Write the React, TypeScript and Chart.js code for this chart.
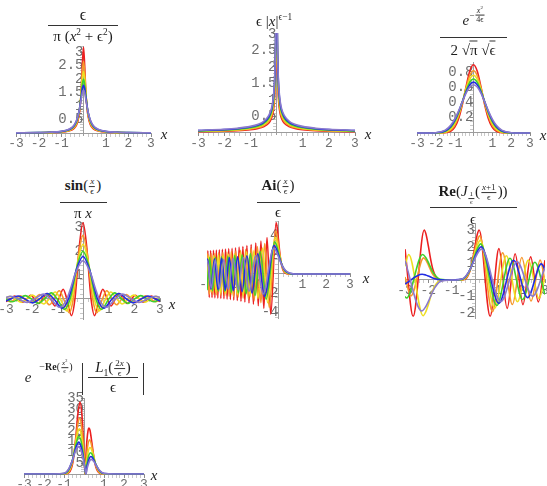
import React, { useEffect, useRef } from 'react';
import { Chart, registerables } from 'chart.js';

Chart.register(...registerables);

const SERIF = "'Liberation Serif', 'DejaVu Serif', serif";
const MONO = "'Liberation Mono', 'DejaVu Sans Mono', monospace";

// epsilon values of the six curves (red → lavender)
const epsilons = [0.1, 0.12, 0.14, 0.16, 0.18, 0.2];
const seriesColors = ['rgb(236,32,32)', 'rgb(246,152,44)', 'rgb(238,222,34)', 'rgb(64,208,44)', 'rgb(34,44,226)', 'rgb(138,122,204)'];

const xTickLabels = [-3, -2, -1, 1, 2, 3];

// ---------- Plot 1: eps / (pi (x^2 + eps^2)) ----------
const lorentzX = [-3, -2, -1.5, -1, -0.7, -0.5, -0.4, -0.3, -0.2, -0.15, -0.1, -0.05, 0, 0.05, 0.1, 0.15, 0.2, 0.3, 0.4, 0.5, 0.7, 1, 1.5, 2, 3];
const lorentzE10 = [0.004, 0.008, 0.014, 0.032, 0.064, 0.122, 0.187, 0.318, 0.637, 0.979, 1.592, 2.546, 3.183, 2.546, 1.592, 0.979, 0.637, 0.318, 0.187, 0.122, 0.064, 0.032, 0.014, 0.008, 0.004];
const lorentzE12 = [0.004, 0.010, 0.017, 0.038, 0.076, 0.144, 0.219, 0.366, 0.702, 1.035, 1.566, 2.260, 2.653, 2.260, 1.566, 1.035, 0.702, 0.366, 0.219, 0.144, 0.076, 0.038, 0.017, 0.010, 0.004];
const lorentzE14 = [0.005, 0.011, 0.020, 0.044, 0.087, 0.165, 0.248, 0.407, 0.748, 1.058, 1.506, 2.016, 2.274, 2.016, 1.506, 1.058, 0.748, 0.407, 0.248, 0.165, 0.087, 0.044, 0.020, 0.011, 0.005];
const lorentzE16 = [0.006, 0.013, 0.022, 0.050, 0.099, 0.185, 0.274, 0.441, 0.776, 1.059, 1.431, 1.812, 1.989, 1.812, 1.431, 1.059, 0.776, 0.441, 0.274, 0.185, 0.099, 0.050, 0.022, 0.013, 0.006];
const lorentzE18 = [0.006, 0.014, 0.025, 0.056, 0.110, 0.203, 0.298, 0.468, 0.791, 1.044, 1.351, 1.642, 1.768, 1.642, 1.351, 1.044, 0.791, 0.468, 0.298, 0.203, 0.110, 0.056, 0.025, 0.014, 0.006];
const lorentzE20 = [0.007, 0.016, 0.028, 0.061, 0.120, 0.220, 0.318, 0.490, 0.796, 1.019, 1.273, 1.498, 1.592, 1.498, 1.273, 1.019, 0.796, 0.490, 0.318, 0.220, 0.120, 0.061, 0.028, 0.016, 0.007];

// ---------- Plot 2: eps |x|^(eps-1) ----------
const powerX = [-3, -2, -1.5, -1, -0.7, -0.5, -0.3, -0.2, -0.15, -0.1, -0.07, -0.05, -0.03, -0.02, -0.01, 0.01, 0.02, 0.03, 0.05, 0.07, 0.1, 0.15, 0.2, 0.3, 0.5, 0.7, 1, 1.5, 2, 3];
const powerE10 = [0.037, 0.054, 0.069, 0.1, 0.138, 0.187, 0.296, 0.426, 0.551, 0.794, 1.095, 1.48, 2.35, 3.38, 6.31, 6.31, 3.38, 2.35, 1.48, 1.095, 0.794, 0.551, 0.426, 0.296, 0.187, 0.138, 0.1, 0.069, 0.054, 0.037];
const powerE12 = [0.046, 0.065, 0.084, 0.12, 0.164, 0.221, 0.346, 0.494, 0.637, 0.910, 1.246, 1.675, 2.63, 3.75, 6.90, 6.90, 3.75, 2.63, 1.675, 1.246, 0.910, 0.637, 0.494, 0.346, 0.221, 0.164, 0.12, 0.084, 0.065, 0.046];
const powerE14 = [0.054, 0.077, 0.099, 0.14, 0.190, 0.254, 0.394, 0.559, 0.715, 1.015, 1.379, 1.84, 2.86, 4.05, 7.35, 7.35, 4.05, 2.86, 1.84, 1.379, 1.015, 0.715, 0.559, 0.394, 0.254, 0.190, 0.14, 0.099, 0.077, 0.054];
const powerE16 = [0.064, 0.089, 0.114, 0.16, 0.216, 0.286, 0.440, 0.618, 0.787, 1.107, 1.494, 1.98, 3.04, 4.28, 7.65, 7.65, 4.28, 3.04, 1.98, 1.494, 1.107, 0.787, 0.618, 0.440, 0.286, 0.216, 0.16, 0.114, 0.089, 0.064];
const powerE18 = [0.073, 0.102, 0.129, 0.18, 0.241, 0.318, 0.483, 0.673, 0.853, 1.189, 1.593, 2.10, 3.19, 4.45, 7.85, 7.85, 4.45, 3.19, 2.10, 1.593, 1.189, 0.853, 0.673, 0.483, 0.318, 0.241, 0.18, 0.129, 0.102, 0.073];
const powerE20 = [0.083, 0.115, 0.145, 0.2, 0.266, 0.348, 0.524, 0.724, 0.913, 1.262, 1.678, 2.20, 3.31, 4.58, 7.96, 7.96, 4.58, 3.31, 2.20, 1.678, 1.262, 0.913, 0.724, 0.524, 0.348, 0.266, 0.2, 0.145, 0.115, 0.083];

// ---------- Plot 3: Gaussian ----------
const gaussX = [-3, -2.5, -2, -1.5, -1.2, -1, -0.8, -0.6, -0.4, -0.2, 0, 0.2, 0.4, 0.6, 0.8, 1, 1.2, 1.5, 2, 2.5, 3];
const gaussE10 = [0, 0, 0, 0.003, 0.024, 0.073, 0.180, 0.363, 0.598, 0.807, 0.892, 0.807, 0.598, 0.363, 0.180, 0.073, 0.024, 0.003, 0, 0, 0];
const gaussE12 = [0, 0, 0.0002, 0.0075, 0.041, 0.101, 0.215, 0.384, 0.584, 0.749, 0.814, 0.749, 0.584, 0.384, 0.215, 0.101, 0.041, 0.0075, 0.0002, 0, 0];
const gaussE14 = [0, 0, 0.0006, 0.0136, 0.058, 0.127, 0.240, 0.397, 0.566, 0.702, 0.754, 0.702, 0.566, 0.397, 0.240, 0.127, 0.058, 0.0136, 0.0006, 0, 0];
const gaussE16 = [0, 0, 0.0013, 0.021, 0.074, 0.148, 0.259, 0.402, 0.549, 0.662, 0.705, 0.662, 0.549, 0.402, 0.259, 0.148, 0.074, 0.021, 0.0013, 0, 0];
const gaussE18 = [0, 0.0001, 0.0026, 0.029, 0.090, 0.166, 0.273, 0.403, 0.533, 0.629, 0.665, 0.629, 0.533, 0.403, 0.273, 0.166, 0.090, 0.029, 0.0026, 0.0001, 0];
const gaussE20 = [0, 0.0003, 0.0042, 0.038, 0.104, 0.181, 0.283, 0.403, 0.517, 0.600, 0.631, 0.600, 0.517, 0.403, 0.283, 0.181, 0.104, 0.038, 0.0042, 0.0003, 0];

// ---------- Plot 4: sin(x/eps)/(pi x) ----------
const sincX10 = [-3, -2.827, -2.667, -2.513, -2.352, -2.199, -2.037, -1.885, -1.722, -1.571, -1.407, -1.257, -1.090, -0.942, -0.773, -0.628, -0.449, -0.314, -0.24, -0.15, 0, 0.15, 0.24, 0.314, 0.449, 0.628, 0.773, 0.942, 1.090, 1.257, 1.407, 1.571, 1.722, 1.885, 2.037, 2.199, 2.352, 2.513, 2.667, 2.827, 3];
const sincY10 = [-0.106, 0, 0.119, 0, -0.135, 0, 0.156, 0, -0.185, 0, 0.226, 0, -0.291, 0, 0.409, 0, -0.691, 0, 0.896, 2.117, 3.183, 2.117, 0.896, 0, -0.691, 0, 0.409, 0, -0.291, 0, 0.226, 0, -0.185, 0, 0.156, 0, -0.135, 0, 0.119, 0, -0.106];
const sincX12 = [-3, -2.822, -2.639, -2.444, -2.262, -2.067, -1.885, -1.688, -1.508, -1.308, -1.131, -0.927, -0.754, -0.539, -0.377, -0.288, -0.18, 0, 0.18, 0.288, 0.377, 0.539, 0.754, 0.927, 1.131, 1.308, 1.508, 1.688, 1.885, 2.067, 2.262, 2.444, 2.639, 2.822, 3];
const sincY12 = [-0.014, -0.113, 0, 0.130, 0, -0.154, 0, 0.188, 0, -0.242, 0, 0.341, 0, -0.576, 0, 0.747, 1.764, 2.653, 1.764, 0.747, 0, -0.576, 0, 0.341, 0, -0.242, 0, 0.188, 0, -0.154, 0, 0.130, 0, -0.113, -0.014];
const sincX14 = [-3, -2.852, -2.639, -2.411, -2.199, -1.969, -1.759, -1.527, -1.319, -1.082, -0.880, -0.629, -0.440, -0.336, -0.21, 0, 0.21, 0.336, 0.440, 0.629, 0.880, 1.082, 1.319, 1.527, 1.759, 1.969, 2.199, 2.411, 2.639, 2.852, 3];
const sincY14 = [0.056, 0.111, 0, -0.132, 0, 0.161, 0, -0.208, 0, 0.292, 0, -0.494, 0, 0.640, 1.512, 2.274, 1.512, 0.640, 0, -0.494, 0, 0.292, 0, -0.208, 0, 0.161, 0, -0.132, 0, 0.111, 0.056];
const sincX16 = [-3, -2.755, -2.513, -2.251, -2.011, -1.745, -1.508, -1.236, -1.005, -0.719, -0.503, -0.384, -0.24, 0, 0.24, 0.384, 0.503, 0.719, 1.005, 1.236, 1.508, 1.745, 2.011, 2.251, 2.513, 2.755, 3];
const sincY16 = [-0.011, -0.115, 0, 0.141, 0, -0.182, 0, 0.255, 0, -0.432, 0, 0.560, 1.323, 1.989, 1.323, 0.560, 0, -0.432, 0, 0.255, 0, -0.182, 0, 0.141, 0, -0.115, -0.011];
const sincX18 = [-3, -2.827, -2.532, -2.262, -1.963, -1.696, -1.391, -1.131, -0.809, -0.565, -0.432, -0.27, 0, 0.27, 0.432, 0.565, 0.809, 1.131, 1.391, 1.696, 1.963, 2.262, 2.532, 2.827, 3];
const sincY18 = [-0.087, 0, 0.125, 0, -0.161, 0, 0.227, 0, -0.384, 0, 0.498, 1.176, 1.768, 1.176, 0.498, 0, -0.384, 0, 0.227, 0, -0.161, 0, 0.125, 0, -0.087];
const sincX20 = [-3, -2.813, -2.513, -2.181, -1.885, -1.545, -1.257, -0.899, -0.628, -0.48, -0.3, 0, 0.3, 0.48, 0.628, 0.899, 1.257, 1.545, 1.885, 2.181, 2.513, 2.813, 3];
const sincY20 = [0.069, 0.113, 0, -0.145, 0, 0.204, 0, -0.346, 0, 0.448, 1.059, 1.592, 1.059, 0.448, 0, -0.346, 0, 0.204, 0, -0.145, 0, 0.113, 0.069];

// ---------- Plot 5: Ai(x/eps)/eps (extrema + decaying tail) ----------
const airyX10 = [-3, -2.964, -2.906, -2.848, -2.789, -2.729, -2.669, -2.607, -2.546, -2.483, -2.419, -2.355, -2.290, -2.224, -2.157, -2.088, -2.019, -1.948, -1.877, -1.803, -1.729, -1.652, -1.574, -1.494, -1.411, -1.326, -1.2385, -1.1475, -1.0528, -0.9535, -0.8489, -0.7372, -0.6163, -0.4820, -0.3248, -0.1019, -0.05, 0, 0.05, 0.1, 0.15, 0.2, 0.25, 0.3, 0.4, 0.5, 3];
const airyY10 = [-0.89, 2.418, -2.430, 2.443, -2.455, 2.468, -2.482, 2.497, -2.512, 2.527, -2.544, 2.561, -2.579, 2.598, -2.618, 2.640, -2.662, 2.686, -2.711, 2.738, -2.767, 2.798, -2.833, 2.870, -2.911, 2.957, -3.023, 3.078, -3.141, 3.217, -3.309, 3.425, -3.579, 3.804, -4.19, 5.357, 4.757, 3.550, 2.317, 1.353, 0.717, 0.349, 0.157, 0.066, 0.0095, 0.001, 0];
const airyX12 = [-3, -2.980, -2.903, -2.826, -2.748, -2.669, -2.588, -2.506, -2.423, -2.338, -2.252, -2.164, -2.075, -1.982, -1.889, -1.793, -1.693, -1.591, -1.4862, -1.3770, -1.2633, -1.1442, -1.0187, -0.8846, -0.7396, -0.5784, -0.3898, -0.1223, -0.06, 0, 0.06, 0.12, 0.18, 0.24, 0.3, 0.36, 0.48, 0.6, 3];
const airyY12 = [1.357, 2.106, -2.120, 2.134, -2.149, 2.165, -2.182, 2.200, -2.218, 2.238, -2.259, 2.282, -2.306, 2.332, -2.361, 2.392, -2.426, 2.464, -2.517, 2.565, -2.618, 2.681, -2.758, 2.854, -2.983, 3.170, -3.492, 4.464, 3.964, 2.958, 1.931, 1.128, 0.598, 0.291, 0.131, 0.055, 0.008, 0.001, 0];
const airyX14 = [-3, -2.923, -2.827, -2.727, -2.628, -2.524, -2.421, -2.313, -2.204, -2.092, -1.975, -1.856, -1.7339, -1.6065, -1.4739, -1.3349, -1.1884, -1.0321, -0.8628, -0.6748, -0.4547, -0.1426, -0.07, 0, 0.07, 0.14, 0.21, 0.28, 0.35, 0.42, 0.56, 0.7, 3];
const airyY14 = [-1.521, 1.886, -1.901, 1.919, -1.936, 1.956, -1.976, 1.999, -2.024, 2.050, -2.079, 2.112, -2.157, 2.200, -2.243, 2.300, -2.364, 2.450, -2.557, 2.714, -2.993, 3.826, 3.398, 2.536, 1.655, 0.966, 0.512, 0.249, 0.112, 0.047, 0.007, 0.001, 0];
const airyX16 = [-3, -2.885, -2.766, -2.643, -2.518, -2.390, -2.258, -2.122, -1.982, -1.836, -1.6844, -1.5256, -1.3582, -1.1795, -0.9861, -0.7712, -0.5197, -0.1630, -0.08, 0, 0.08, 0.16, 0.24, 0.32, 0.4, 0.48, 0.64, 0.8, 3];
const airyY16 = [-1.691, 1.711, -1.729, 1.749, -1.771, 1.794, -1.819, 1.848, -1.888, 1.924, -1.963, 2.011, -2.068, 2.141, -2.237, 2.375, -2.619, 3.348, 2.973, 2.219, 1.448, 0.846, 0.448, 0.218, 0.098, 0.041, 0.006, 0.001, 0];
const airyX18 = [-3, -2.974, -2.833, -2.689, -2.540, -2.387, -2.2293, -2.0655, -1.8950, -1.7163, -1.5280, -1.3270, -1.1093, -0.8676, -0.5847, -0.1834, -0.09, 0, 0.09, 0.18, 0.27, 0.36, 0.45, 0.54, 0.72, 0.9, 3];
const airyY18 = [1.272, 1.554, -1.574, 1.594, -1.617, 1.643, -1.678, 1.710, -1.745, 1.787, -1.838, 1.903, -1.988, 2.111, -2.328, 2.976, 2.643, 1.972, 1.287, 0.752, 0.398, 0.194, 0.087, 0.037, 0.005, 0.001, 0];
const airyX20 = [-3, -2.988, -2.822, -2.652, -2.4770, -2.2950, -2.1055, -1.9070, -1.6977, -1.4744, -1.2326, -0.9640, -0.6496, -0.2038, -0.1, 0, 0.1, 0.2, 0.3, 0.4, 0.5, 0.6, 0.8, 1.0, 3];
const airyY20 = [1.42, 1.435, -1.456, 1.479, -1.511, 1.539, -1.571, 1.609, -1.655, 1.713, -1.790, 1.902, -2.095, 2.679, 2.379, 1.775, 1.159, 0.677, 0.359, 0.175, 0.079, 0.033, 0.005, 0.0005, 0];

// ---------- Plot 6: Re(J_{1/eps}((x+1)/eps))/eps ----------
const besselX10 = [-3, -2.65, -2.177, -2.1, -2.0, -1.9, -1.8, -1.6, -1.4, -1.0, -0.6, -0.4, -0.2, -0.1, 0.0, 0.1, 0.177, 0.65, 1.025, 1.378, 1.72, 2.055, 2.385, 2.713, 3.0];
const besselY10 = [1.87, -2.20, 3.03, 2.78, 2.07, 1.25, 0.62, 0.07, 0.002, 0, 0.002, 0.07, 0.62, 1.25, 2.07, 2.78, 3.03, -2.20, 1.90, -1.72, 1.59, -1.49, 1.40, -1.33, 1.20];
const besselX12 = [-3, -2.747, -2.201, -2.104, -2.0, -1.84, -1.72, -1.48, -1.0, -0.52, -0.28, -0.16, 0.0, 0.104, 0.201, 0.747, 1.185, 1.600, 2.005, 2.402, 2.794, 3.0];
const besselY12 = [0.186, -0.963, 1.338, 1.205, 0.92, 0.41, 0.18, 0.010, 0, 0.021, 0.36, 0.82, 1.84, 2.41, 2.675, -1.925, 1.655, -1.488, 1.368, -1.277, 1.204, -0.104];
const besselX14 = [-3, -2.842, -2.223, -2.106, -2.0, -1.84, -1.70, -1.49, -1.0, -0.51, -0.30, -0.16, 0.0, 0.106, 0.223, 0.842, 1.344, 1.821, 2.286, 2.746, 3.0];
const besselY14 = [0.833, 1.544, -2.166, -1.919, -1.495, -0.737, -0.311, -0.036, 0, 0.040, 0.345, 0.818, 1.659, 2.13, 2.404, -1.714, 1.467, -1.314, 1.206, -1.122, 0.195];
const besselX16 = [-3, -2.936, -2.244, -2.112, -2.0, -1.84, -1.72, -1.48, -1.0, -0.52, -0.28, -0.16, 0.0, 0.112, 0.244, 0.936, 1.499, 2.038, 2.566, 3.0];
const besselY16 = [-1.005, -1.095, 1.550, 1.365, 1.073, 0.573, 0.308, 0.036, 0, 0.051, 0.436, 0.81, 1.518, 1.93, 2.192, -1.549, 1.320, -1.178, 1.078, -0.879];
const besselX18 = [-3, -2.265, -2.116, -2.0, -1.84, -1.72, -1.486, -1.0, -0.514, -0.28, -0.16, 0.0, 0.116, 0.265, 1.025, 1.652, 2.254, 2.843, 3.0];
const besselY18 = [-0.246, 0.350, 0.307, 0.244, 0.139, 0.080, 0.012, 0, 0.071, 0.46, 0.80, 1.403, 1.77, 2.018, -1.417, 1.200, -1.069, 0.977, 0.642];
const besselX20 = [-3, -2.284, -2.12, -2.0, -1.84, -1.72, -1.5, -1.0, -0.8, -0.5, -0.28, -0.16, 0.0, 0.12, 0.284, 1.104, 1.804, 2.468, 3.0];
const besselY20 = [1.171, -1.875, -1.635, -1.306, -0.79, -0.46, -0.10, 0, 0.001, 0.10, 0.46, 0.79, 1.306, 1.635, 1.875, -1.311, 1.103, -0.979, 0.760];

// ---------- Plot 7: e^{-x^2/eps} |L1(2x/eps)/eps| ----------
const lagX10 = [-3, -1.5, -1, -0.8, -0.6, -0.5, -0.4, -0.3, -0.2, -0.1, 0, 0.025, 0.05, 0.075, 0.1, 0.15, 0.2, 0.25, 0.3, 0.4, 0.5, 0.6, 0.8, 1, 1.5, 3];
const lagY10 = [0, 0, 0.0095, 0.283, 3.55, 9.03, 18.17, 28.46, 33.52, 27.14, 10, 4.97, 0, 4.73, 9.05, 15.97, 20.11, 21.41, 20.33, 14.13, 7.39, 3.0, 0.249, 0.0086, 0, 0];
const lagX12 = [-3, -1.5, -1, -0.8, -0.6, -0.5, -0.4, -0.3, -0.2168, -0.1, 0, 0.03, 0.06, 0.09, 0.12, 0.18, 0.2768, 0.35, 0.45, 0.6, 0.8, 1, 1.5, 3];
const lagY12 = [0, 0, 0.0354, 0.577, 4.56, 9.69, 16.84, 23.62, 25.98, 20.44, 8.333, 4.136, 0, 3.894, 7.39, 12.72, 15.90, 14.51, 10.02, 3.73, 0.496, 0.0313, 0, 0];
const lagX14 = [-3, -1.5, -1, -0.8, -0.6, -0.5, -0.4, -0.3, -0.2319, -0.1, 0, 0.035, 0.07, 0.105, 0.14, 0.21, 0.3019, 0.4, 0.5, 0.6, 0.8, 1, 1.5, 3];
const lagY14 = [0, 0, 0.0863, 0.919, 5.23, 9.75, 15.30, 19.85, 20.98, 16.15, 7.143, 3.540, 0, 3.301, 6.21, 10.43, 12.34, 10.74, 7.36, 4.13, 0.771, 0.075, 0, 0];
const lagX16 = [-3, -1.5, -1, -0.8, -0.6, -0.5, -0.4, -0.3, -0.2457, -0.1, 0, 0.04, 0.08, 0.12, 0.16, 0.24, 0.3257, 0.4, 0.5, 0.6, 0.8, 1, 1.5, 3];
const lagY16 = [0, 0, 0.163, 1.259, 5.60, 9.50, 13.80, 16.92, 17.45, 13.21, 6.25, 3.094, 0, 2.856, 5.33, 8.72, 9.89, 9.20, 6.88, 4.28, 1.03, 0.139, 0, 0];
const lagX18 = [-3, -1.5, -1, -0.8, -0.6, -0.5, -0.4, -0.2583, -0.1, 0, 0.045, 0.09, 0.135, 0.18, 0.27, 0.3483, 0.45, 0.6, 0.8, 1, 1.5, 3];
const lagY18 = [0, 0.0004, 0.260, 1.569, 5.76, 9.08, 12.43, 14.84, 11.09, 5.556, 2.747, 0, 2.510, 4.64, 7.41, 8.13, 7.22, 4.26, 1.252, 0.217, 0.0004, 0];
const lagX20 = [-3, -1.5, -1, -0.8, -0.6, -0.5, -0.4, -0.2702, -0.1, 0, 0.05, 0.1, 0.15, 0.2, 0.3, 0.3702, 0.5, 0.6, 0.8, 1, 1.5, 3];
const lagY20 = [0, 0.001, 0.371, 1.835, 5.79, 8.60, 11.23, 12.85, 9.51, 5, 2.469, 0, 2.234, 4.09, 6.38, 6.81, 5.73, 4.13, 1.43, 0.303, 0.001, 0];

// ---------- tick labels ----------
const yTicksP1 = [0.5, 1, 1.5, 2, 2.5, 3];
const yTicksP3 = [0.2, 0.4, 0.6, 0.8];
const yTicksP4 = [1, 2, 3];
const yTicksP5 = [-4, -2, 2, 4];
const yTicksP6 = [-2, -1, 1, 2, 3];
const yTicksP7 = [5, 10, 15, 20, 25, 30, 35];

type Series = { xs: number[]; ys: number[] };
type Spec = {
  series: Series[];
  left: number; right: number; y0: number; k: number;
  yMin: number; yMax: number; yMajor: number[]; yMinorStep: number;
};

const same = (xs: number[], yss: number[][]): Series[] => yss.map((ys) => ({ xs, ys }));

const PLOTS: Spec[] = [
  { series: same(lorentzX, [lorentzE10, lorentzE12, lorentzE14, lorentzE16, lorentzE18, lorentzE20]),
    left: 16, right: 151, y0: 133, k: 27, yMin: -0.08, yMax: 3.2, yMajor: yTicksP1, yMinorStep: 0.1 },
  { series: same(powerX, [powerE10, powerE12, powerE14, powerE16, powerE18, powerE20]),
    left: 198, right: 355, y0: 133, k: 33, yMin: -0.06, yMax: 3.03, yMajor: yTicksP1, yMinorStep: 0.1 },
  { series: same(gaussX, [gaussE10, gaussE12, gaussE14, gaussE16, gaussE18, gaussE20]),
    left: 417, right: 530, y0: 133, k: 76.5, yMin: -0.03, yMax: 0.92, yMajor: yTicksP3, yMinorStep: 0.05 },
  { series: [{ xs: sincX10, ys: sincY10 }, { xs: sincX12, ys: sincY12 }, { xs: sincX14, ys: sincY14 }, { xs: sincX16, ys: sincY16 }, { xs: sincX18, ys: sincY18 }, { xs: sincX20, ys: sincY20 }],
    left: 6, right: 160, y0: 299, k: 24, yMin: -0.85, yMax: 3.2, yMajor: yTicksP4, yMinorStep: 0.2 },
  { series: [{ xs: airyX10, ys: airyY10 }, { xs: airyX12, ys: airyY12 }, { xs: airyX14, ys: airyY14 }, { xs: airyX16, ys: airyY16 }, { xs: airyX18, ys: airyY18 }, { xs: airyX20, ys: airyY20 }],
    left: 207, right: 350, y0: 274, k: 9.6, yMin: -4.6, yMax: 5.5, yMajor: yTicksP5, yMinorStep: 0.5 },
  { series: [{ xs: besselX10, ys: besselY10 }, { xs: besselX12, ys: besselY12 }, { xs: besselX14, ys: besselY14 }, { xs: besselX16, ys: besselY16 }, { xs: besselX18, ys: besselY18 }, { xs: besselX20, ys: besselY20 }],
    left: 405, right: 545, y0: 280, k: 16.5, yMin: -2.35, yMax: 3.35, yMajor: yTicksP6, yMinorStep: 0.2 },
  { series: [{ xs: lagX10, ys: lagY10 }, { xs: lagX12, ys: lagY12 }, { xs: lagX14, ys: lagY14 }, { xs: lagX16, ys: lagY16 }, { xs: lagX18, ys: lagY18 }, { xs: lagX20, ys: lagY20 }],
    left: 24, right: 144, y0: 474, k: 2.15, yMin: -0.4, yMax: 35, yMajor: yTicksP7, yMinorStep: 1 },
];

const isMajor = (majors: number[], v: number) => majors.some((m) => Math.abs(m - v) < 1e-9);

function buildTicks(min: number, max: number, majors: number[], step: number) {
  const vals: number[] = [];
  const a = Math.ceil(min / step - 1e-9);
  const b = Math.floor(max / step + 1e-9);
  for (let i = a; i <= b; i++) {
    const v = Math.round(i * step * 1e6) / 1e6;
    if (Math.abs(v) < 1e-9) continue;
    vals.push(v);
  }
  majors.forEach((m) => { if (!isMajor(vals, m)) vals.push(m); });
  return vals.sort((p, q) => p - q).map((value) => ({ value }));
}

const PAD = 24;
const TICK_COLOR = '#6e6e6e';

function Plot({ spec }: { spec: Spec }) {
  const ref = useRef<HTMLCanvasElement>(null);
  const top = spec.y0 - spec.yMax * spec.k;
  const bottom = spec.y0 - spec.yMin * spec.k;
  const cl = Math.floor(spec.left - PAD);
  const ct = Math.floor(top - PAD);
  const cr = Math.ceil(spec.right + PAD);
  const cb = Math.ceil(bottom + PAD);
  const cw = cr - cl;
  const ch = cb - ct;

  useEffect(() => {
    if (!ref.current) return;
    const datasets = spec.series.map((s, i) => ({
      data: s.xs.map((x, j) => ({ x, y: s.ys[j] })),
      borderColor: seriesColors[i],
      backgroundColor: seriesColors[i],
      borderWidth: 1.6,
      pointRadius: 0,
      fill: false,
      cubicInterpolationMode: 'monotone' as const,
      label: 'eps=' + epsilons[i],
    })).reverse();
    const tickFontX = { family: MONO, size: 13 };
    const tickFontY = { family: MONO, size: 14 };
    const chart = new Chart(ref.current, {
      type: 'line',
      data: { datasets },
      options: {
        animation: false,
        responsive: false,
        devicePixelRatio: 1,
        events: [],
        layout: { padding: { left: spec.left - cl, right: cr - spec.right, top: top - ct, bottom: cb - bottom } },
        elements: { line: { capBezierPoints: false } },
        plugins: { legend: { display: false }, tooltip: { enabled: false }, title: { display: false } },
        scales: {
          x: {
            type: 'linear', min: -3, max: 3, position: { y: 0 } as any,
            afterBuildTicks: (s: any) => { s.ticks = buildTicks(-3, 3, xTickLabels, 0.2); },
            ticks: {
              autoSkip: false, maxRotation: 0, minRotation: 0, padding: 0, color: TICK_COLOR, font: tickFontX,
              callback: (v: any) => (isMajor(xTickLabels, Number(v)) ? String(v) : ''),
            },
            grid: {
              display: true, drawOnChartArea: false, drawTicks: true, tickLength: 3,
              tickColor: (c: any) => (c.tick && isMajor(xTickLabels, c.tick.value) ? '#8a8a8a' : '#c8c8c8'),
            },
            border: { display: true, color: '#9c9c9c', width: 1 },
          },
          y: {
            type: 'linear', min: spec.yMin, max: spec.yMax, position: { x: 0 } as any,
            afterBuildTicks: (s: any) => { s.ticks = buildTicks(spec.yMin, spec.yMax, spec.yMajor, spec.yMinorStep); },
            ticks: {
              autoSkip: false, padding: 1, color: TICK_COLOR, font: tickFontY,
              callback: (v: any) => (isMajor(spec.yMajor, Number(v)) ? String(v) : ''),
            },
            grid: {
              display: true, drawOnChartArea: false, drawTicks: true, tickLength: 3,
              tickColor: (c: any) => (c.tick && isMajor(spec.yMajor, c.tick.value) ? '#8a8a8a' : '#c8c8c8'),
            },
            border: { display: true, color: '#9c9c9c', width: 1 },
          },
        },
      } as any,
    });
    return () => chart.destroy();
  }, []);

  return (
    <canvas ref={ref} width={cw} height={ch}
      style={{ position: 'absolute', left: cl, top: ct, width: cw, height: ch }} />
  );
}

// ---------- text helpers ----------
const Txt = ({ x, y, size = 15, children, style }: any) => (
  <div style={{
    position: 'absolute', left: x, top: y, transform: 'translate(-50%, -50%)', fontSize: size,
    lineHeight: 1, whiteSpace: 'nowrap', fontFamily: SERIF, color: '#1e1e1e', ...style,
  }}>{children}</div>
);
const HLine = ({ x1, x2, y }: any) => (
  <div style={{ position: 'absolute', left: x1, top: y, width: x2 - x1, height: 0, borderTop: '1px solid #333' }} />
);
const VLine = ({ x, y1, y2 }: any) => (
  <div style={{ position: 'absolute', left: x, top: y1, width: 0, height: y2 - y1, borderLeft: '1px solid #333' }} />
);
const SF = ({ n, d, size = 9 }: any) => (
  <span style={{ display: 'inline-flex', flexDirection: 'column', alignItems: 'center', verticalAlign: 'middle', fontSize: size, lineHeight: 1.05, margin: '0 1px' }}>
    <span style={{ padding: '0 1px' }}>{n}</span>
    <span style={{ borderTop: '1px solid #333', padding: '0 1px', alignSelf: 'stretch', textAlign: 'center' }}>{d}</span>
  </span>
);
const I = ({ children }: any) => <i>{children}</i>;
const Sup = ({ children }: any) => <sup style={{ fontSize: '0.62em', lineHeight: 0 }}>{children}</sup>;
const Rad = ({ children }: any) => <span>√<span style={{ borderTop: '1px solid #333' }}>{children}</span></span>;
const AxisX = ({ x, y }: any) => <Txt x={x} y={y} size={15} style={{ fontStyle: 'italic', color: '#222' }}>x</Txt>;

export default function App() {
  return (
    <div style={{ position: 'fixed', left: 0, top: 0, width: 547, height: 486, overflow: 'hidden', background: '#fff' }}>
      {PLOTS.map((p, i) => <Plot key={i} spec={p} />)}

      {/* Plot 1 title */}
      <Txt x={83} y={15} size={16}>ϵ</Txt>
      <HLine x1={48} x2={118} y={25} />
      <Txt x={83} y={36}>π (<I>x</I><Sup>2</Sup> + ϵ<Sup>2</Sup>)</Txt>
      <AxisX x={164} y={134} />

      {/* Plot 2 title */}
      <Txt x={274} y={21}>ϵ |<I>x</I>|<Sup>ϵ−1</Sup></Txt>
      <AxisX x={368} y={134} />

      {/* Plot 3 title */}
      <Txt x={474} y={22}>
        <I>e</I>
        <span style={{ position: 'relative', top: -7, fontSize: 9 }}>−<SF n={<><I>x</I><Sup>2</Sup></>} d="4ϵ" size={8} /></span>
      </Txt>
      <HLine x1={440} x2={507} y={37} />
      <Txt x={473} y={50}>2 <Rad>π</Rad> <Rad>ϵ</Rad></Txt>
      <AxisX x={543} y={135} />

      {/* Plot 4 title */}
      <Txt x={83} y={187}><b>sin</b>(<SF n={<I>x</I>} d="ϵ" />)</Txt>
      <HLine x1={60} x2={107} y={202} />
      <Txt x={83} y={213}>π <I>x</I></Txt>
      <AxisX x={172} y={304} />

      {/* Plot 5 title */}
      <Txt x={278} y={187}><b>Ai</b>(<SF n={<I>x</I>} d="ϵ" />)</Txt>
      <HLine x1={257} x2={300} y={202} />
      <Txt x={278} y={212}>ϵ</Txt>
      <AxisX x={366} y={278} />

      {/* Plot 6 title */}
      <Txt x={473} y={193}>
        <b>Re</b>(<I>J</I><span style={{ position: 'relative', top: 6 }}><SF n="1" d="ϵ" size={7} /></span>(<SF n={<><I>x</I>+1</>} d="ϵ" />))
      </Txt>
      <HLine x1={430} x2={517} y={207} />
      <Txt x={473} y={219}>ϵ</Txt>

      {/* Plot 7 title */}
      <Txt x={28} y={377}><I>e</I></Txt>
      <Txt x={56} y={368} size={10}>−<b>Re</b>(<SF n={<><I>x</I><Sup>2</Sup></>} d="ϵ" size={7} />)</Txt>
      <VLine x={82} y1={363} y2={395} />
      <Txt x={113} y={369}><I>L</I><sub style={{ fontSize: '0.65em' }}>1</sub>(<SF n={<>2<I>x</I></>} d="ϵ" />)</Txt>
      <HLine x1={88} x2={138} y={377} />
      <Txt x={113} y={387}>ϵ</Txt>
      <VLine x={143} y1={363} y2={395} />
      <AxisX x={154} y={475} />
    </div>
  );
}
